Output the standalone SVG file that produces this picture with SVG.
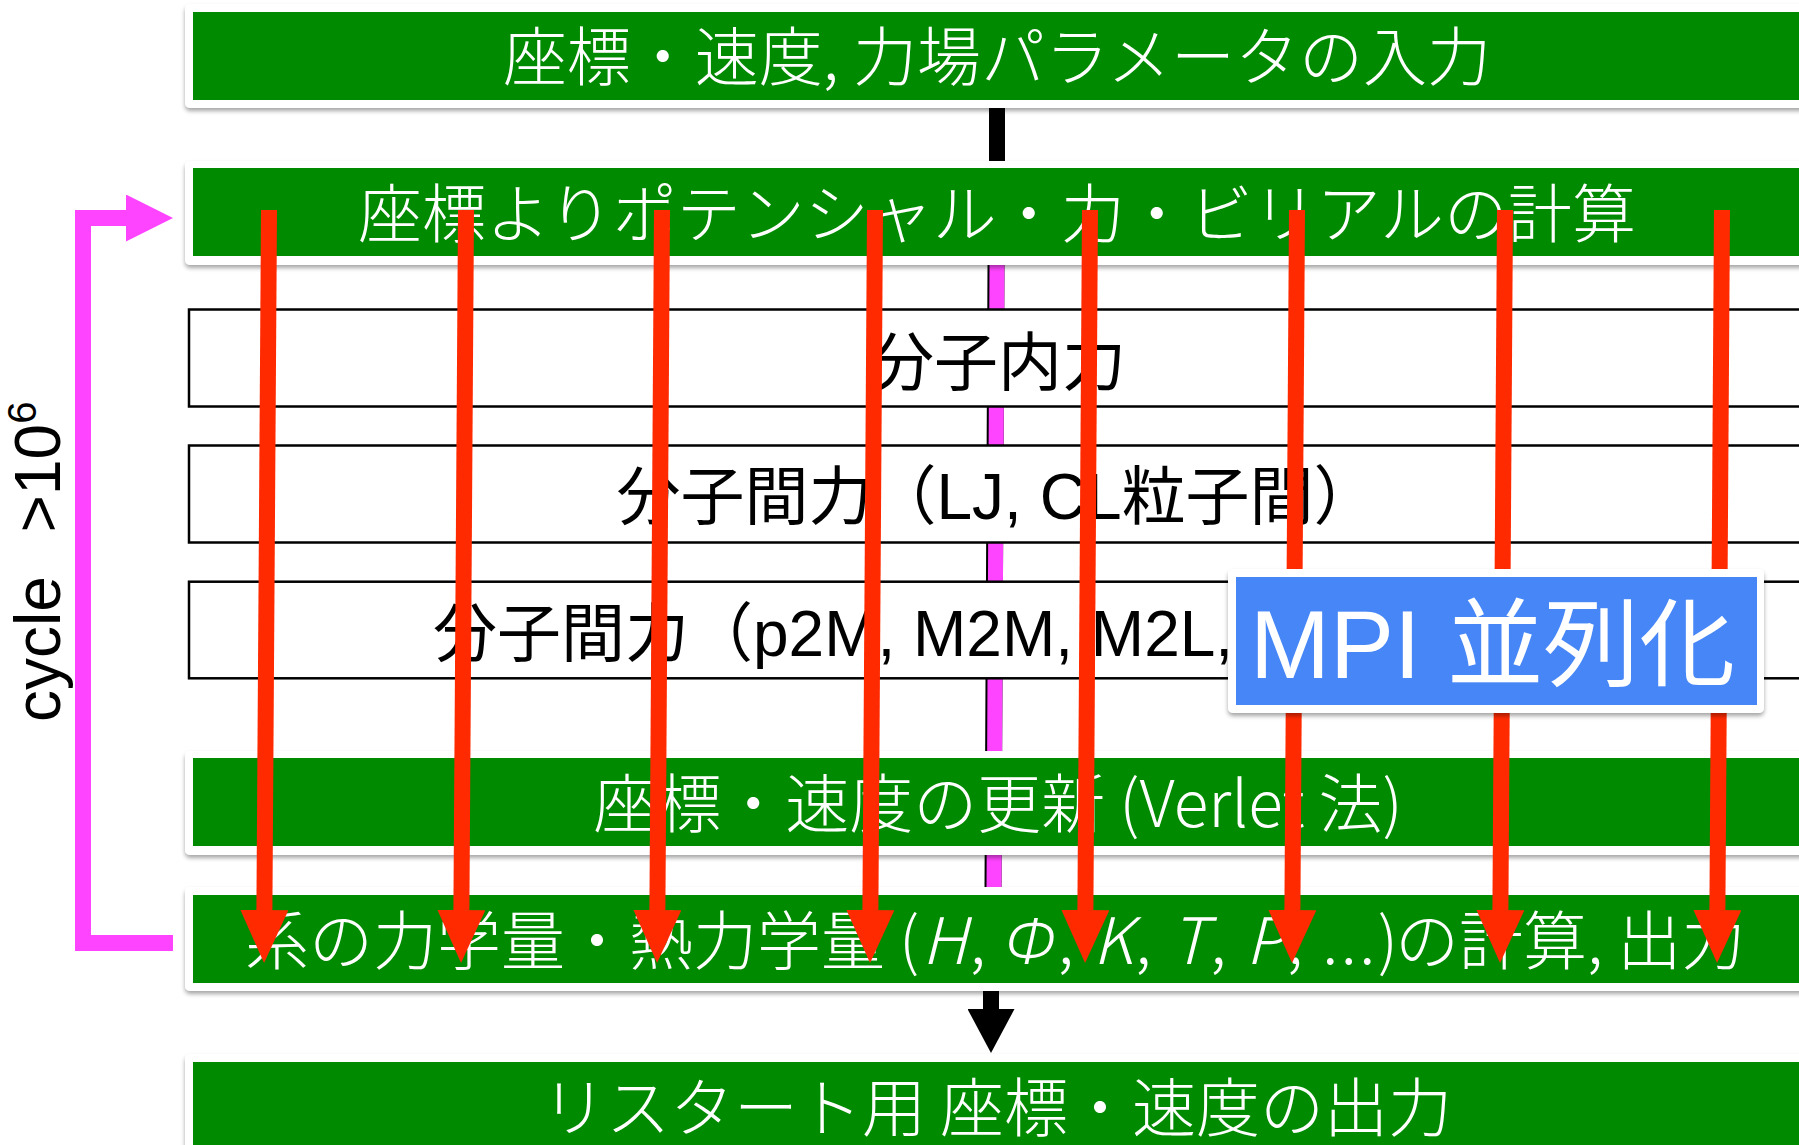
<svg xmlns="http://www.w3.org/2000/svg" width="1799" height="1145" viewBox="0 0 1799 1145">
<defs>
<filter id="sh" x="-5%" y="-20%" width="110%" height="150%">
<feDropShadow dx="0" dy="3" stdDeviation="2" flood-color="#000" flood-opacity="0.35"/>
</filter>
<marker id="ar" viewBox="0 0 53 48" refX="0" refY="24" markerWidth="53" markerHeight="48" markerUnits="userSpaceOnUse" orient="auto">
<path d="M0,0 L53,24 L0,48 z" fill="#FF2A00"/>
</marker>
<marker id="ab" viewBox="0 0 44 47" refX="0" refY="23.5" markerWidth="44" markerHeight="47" markerUnits="userSpaceOnUse" orient="auto">
<path d="M0,0 L44,23.5 L0,47 z" fill="#000"/>
</marker>
<marker id="ap" viewBox="0 0 47 47" refX="0" refY="23.5" markerWidth="47" markerHeight="47" markerUnits="userSpaceOnUse" orient="auto">
<path d="M0,0 L47,23.5 L0,47 z" fill="#FF44FF"/>
</marker>
</defs>
<style>
.card{fill:#fff;filter:url(#sh)}
.green{fill:#008A00}
.wt{fill:#fff;font-family:"Noto Sans CJK JP",sans-serif;font-size:64px;font-weight:300;text-anchor:middle}
.wbox{fill:#fff;stroke:#000;stroke-width:2.5}
.bt{fill:#000;font-family:"Liberation Sans","Noto Sans CJK JP",sans-serif;font-size:64px}
.red{stroke:#FF2A00;stroke-width:16;fill:none;marker-end:url(#ar)}
.blk{stroke:#000;stroke-width:16;fill:none}
.pink{stroke:#FF44FF;stroke-width:16;fill:none}
.it{font-style:italic}
</style>
<rect width="1799" height="1145" fill="#fff"/>

<g id="label-cycle">
<text class="bt" font-size="60" transform="translate(60,722) rotate(-90)">cycle <tspan dx="26">&gt;10</tspan><tspan dy="-24" font-size="40">6</tspan></text>
</g>

<g id="connectors-back">
<line x1="996" y1="265" x2="993" y2="887" stroke="#000" stroke-width="17" stroke-dasharray="44.5 97 39 97 39.2 96.6 72.7 104 40"/>
<line x1="997" y1="265" x2="994" y2="887" stroke="#FF44FF" stroke-width="15" stroke-dasharray="44.5 97 39 97 39.2 96.6 72.7 104 40"/>
</g>

<g id="node-input">
<rect class="card" x="185" y="4" width="1700" height="104" rx="5"/>
<rect class="green" x="193" y="12" width="1700" height="88"/>
<text class="wt" x="997" y="80">座標・速度, 力場パラメータの入力</text>
</g>
<g id="node-force">
<rect class="card" x="185" y="161" width="1700" height="104" rx="5"/>
<rect class="green" x="193" y="168" width="1700" height="88"/>
<text class="wt" x="997" y="237">座標よりポテンシャル・力・ビリアルの計算</text>
</g>
<g id="node-intra">
<rect class="wbox" x="189" y="309.5" width="1700" height="97"/>
<text class="bt" x="998" y="385" text-anchor="middle">分子内力</text>
</g>
<g id="node-inter-lj">
<rect class="wbox" x="189" y="445.5" width="1700" height="97"/>
<text class="bt" x="997" y="519" text-anchor="middle">分子間力（LJ, CL粒子間）</text>
</g>
<g id="node-inter-fmm">
<rect class="wbox" x="189" y="581.7" width="1700" height="96.6"/>
<text class="bt" x="433" y="656">分子間力（p2M, M2M, M2L,</text>
</g>
<g id="node-update">
<rect class="card" x="185" y="751" width="1700" height="104" rx="5"/>
<rect class="green" x="193" y="758" width="1700" height="88"/>
<text class="wt" x="998" y="827">座標・速度の更新 (Verlet 法)</text>
</g>
<g id="node-output">
<rect class="card" x="185" y="887" width="1700" height="104" rx="5"/>
<rect class="green" x="193" y="895" width="1700" height="88"/>
<text class="wt" y="964" style="text-anchor:start"><tspan x="245">系の力学量・熱力学量 </tspan><tspan x="899" letter-spacing="2.5">(<tspan class="it">H</tspan>, <tspan class="it" font-family="'Noto Sans',sans-serif">Φ</tspan>, <tspan class="it">K</tspan>, <tspan class="it">T</tspan>, <tspan class="it">P</tspan>, ...)</tspan><tspan x="1395">の計算, 出力</tspan></text>
</g>
<g id="node-restart">
<rect class="card" x="185" y="1054" width="1700" height="120" rx="5"/>
<rect class="green" x="193" y="1062" width="1700" height="100"/>
<text class="wt" x="997" y="1131">リスタート用 座標・速度の出力</text>
</g>

<g id="connectors">
<line class="blk" x1="997" y1="108" x2="997" y2="161"/>
<line class="blk" x1="991" y1="991" x2="991" y2="1009" marker-end="url(#ab)"/>
<path class="pink" d="M173,943 H83 V218 H126" marker-end="url(#ap)"/>
<line class="red" x1="269" y1="210" x2="264.4" y2="910"/>
<line class="red" x1="466" y1="210" x2="461.4" y2="910"/>
<line class="red" x1="662" y1="210" x2="657.4" y2="910"/>
<line class="red" x1="875" y1="210" x2="870.4" y2="910"/>
<line class="red" x1="1090" y1="210" x2="1085.4" y2="910"/>
<line class="red" x1="1297" y1="210" x2="1292.4" y2="910"/>
<line class="red" x1="1505" y1="210" x2="1500.4" y2="910"/>
<line class="red" x1="1722" y1="210" x2="1717.4" y2="910"/>
</g>

<g id="node-mpi">
<rect class="card" x="1228" y="569" width="536" height="144" rx="5"/>
<rect x="1236" y="577" width="521" height="128" fill="#4686F7"/>
<text x="1250" y="678" fill="#fff" font-family="'Liberation Sans','Noto Sans CJK JP',sans-serif" font-size="96">MPI 並列化</text>
</g>
</svg>
